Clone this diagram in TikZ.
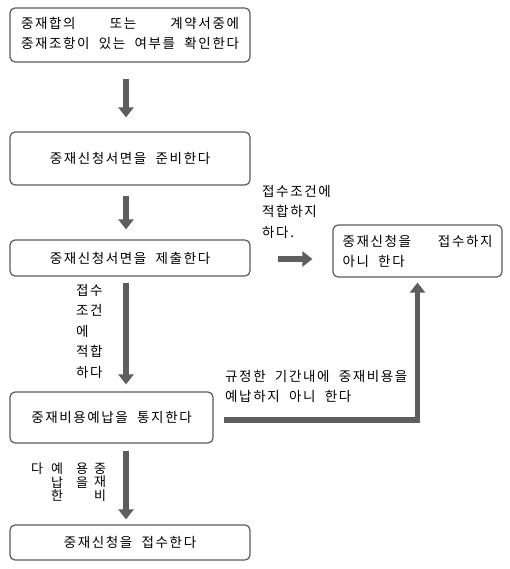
\documentclass[tikz,border=0pt]{standalone}
\usepackage{fontspec}
\setmainfont{Noto Sans CJK KR}[LetterSpace=12, WordSpace=2]
\usetikzlibrary{arrows.meta}

\definecolor{boxgray}{HTML}{5A5A5A}
\definecolor{arrowgray}{HTML}{5E5E5E}

\tikzset{
  stepbox/.style={draw=boxgray, line width=1.2pt, rounded corners=5pt, inner sep=4pt},
  flowarrow/.style={draw=arrowgray, line width=5.5pt, -{Triangle[width=15pt,length=10pt]}},
  note/.style={inner sep=0pt, align=left, font=\fontsize{13.5}{20.5}\selectfont}
}

\begin{document}
\begin{tikzpicture}[x=1pt, y=-1pt, font=\fontsize{13.5}{20}\selectfont]
  \useasboundingbox (0,0) rectangle (509,569);

  % steps
  \node[stepbox, minimum width=240pt, minimum height=54pt] (check) at (130,35)
    {\begin{tabular}{@{}l@{}}중재합의\hfill 또는\hfill 계약서중에\\중재조항이 있는 여부를 확인한다\end{tabular}};
  \node[stepbox, minimum width=240pt, minimum height=53pt] (prepare) at (130,158.5) {중재신청서면을 준비한다};
  \node[stepbox, minimum width=240pt, minimum height=36pt] (submit) at (130,258) {중재신청서면을 제출한다};
  \node[stepbox, minimum width=203pt, minimum height=51pt] (notice) at (111.5,417.5) {중재비용예납을 통지한다};
  \node[stepbox, minimum width=240pt, minimum height=35pt] (accept) at (130,542.5) {중재신청을 접수한다};
  \node[stepbox, minimum width=169pt, minimum height=52pt] (reject) at (417.5,251)
    {\parbox{150pt}{\baselineskip=20pt 중재신청을\hfill 접수하지\\아니 한다}};

  % labels
  \node[note, anchor=north west] (fit) at (76,284) {접수\\조건\\에\\적합\\하다};
  \node[note, anchor=north west] (unfit) at (262,185) {접수조건에\\적합하지\\하다.};
  \node[note, anchor=north west] (late) at (225,370) {규정한 기간내에 중재비용을\\예납하지 아니 한다};
  \node[note, anchor=north, font=\fontsize{13}{13.5}\selectfont, align=center] (paid1) at (100,463) {중\\재\\비};
  \node[note, anchor=north, font=\fontsize{13}{13.5}\selectfont, align=center] (paid2) at (82,463) {용\\을};
  \node[note, anchor=north, font=\fontsize{13}{13.5}\selectfont, align=center] (paid3) at (57,463) {예\\납\\한};
  \node[note, anchor=north, font=\fontsize{13}{13.5}\selectfont, align=center] (paid4) at (37,463) {다};

  % arrows
  \coordinate (mid) at (126,0);
  \draw[flowarrow, shorten <=16pt, shorten >=14pt] (check.south -| mid) -- (prepare.north -| mid);
  \draw[flowarrow, shorten <=10pt, shorten >=10pt] (prepare.south -| mid) -- (submit.north -| mid);
  \draw[flowarrow, shorten <=6pt, shorten >=7pt] (submit.south -| mid) -- (notice.north -| mid);
  \draw[flowarrow, shorten <=7pt, shorten >=5pt] (notice.south -| mid) -- (accept.north -| mid);
  \draw[flowarrow, shorten <=27pt, shorten >=20pt] ([yshift=-1pt]submit.east) -- ([yshift=-1pt]submit.east -| reject.west);
  \draw[flowarrow, shorten <=10pt, shorten >=5pt] ([yshift=-2.5pt]notice.east) -| (reject.south);
\end{tikzpicture}
\end{document}
